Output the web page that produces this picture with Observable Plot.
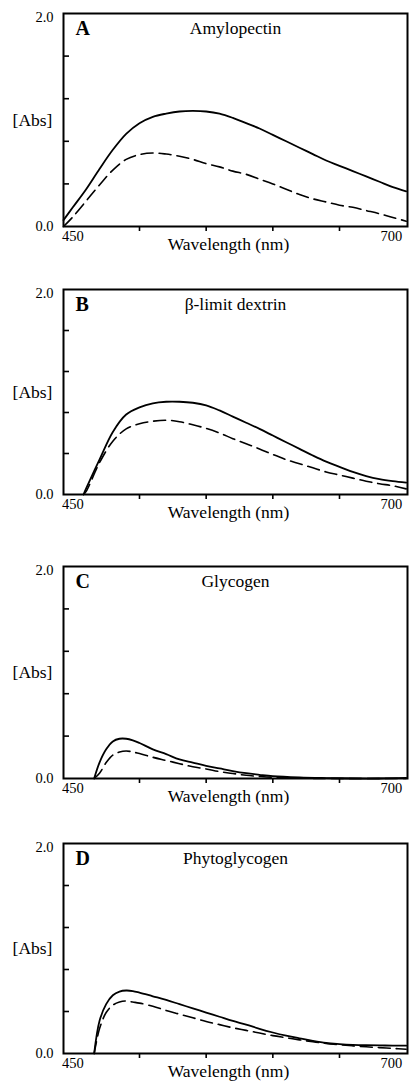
<!DOCTYPE html>
<html><head><meta charset="utf-8">
<script src="https://cdn.jsdelivr.net/npm/d3@7"></script>
<script src="https://cdn.jsdelivr.net/npm/@observablehq/plot@0.6"></script>
<style>
html,body{margin:0;padding:0;background:#fff;overflow:hidden}
#chart{position:relative;width:410px;height:1084px;overflow:hidden}
#chart svg{position:absolute;left:0;display:block;max-width:none}
</style>
</head><body><div id="chart"></div>
<script>
const panelLetters = ["A", "B", "C", "D"];
const panelTitles = ["Amylopectin", "β-limit dextrin", "Glycogen", "Phytoglycogen"];
const xLabel = "Wavelength (nm)";
const yLabel = "[Abs]";
const xMinorTicks = [500, 550, 600, 650];
const xEndTicks = [450, 700];
const yMinorTicks = [0.4, 0.8, 1.2, 1.6];
const yEndTicks = [0, 2];

// Panel A: Amylopectin
const wlA = [443, 450, 460, 470, 480, 490, 500, 510, 520, 530, 540, 550, 560, 570, 580, 590, 600, 610, 620, 630, 640, 650, 660, 670, 680, 690, 700];
const solidA = [0.06, 0.18, 0.35, 0.54, 0.72, 0.87, 0.97, 1.03, 1.06, 1.08, 1.085, 1.08, 1.06, 1.02, 0.97, 0.92, 0.86, 0.80, 0.74, 0.68, 0.62, 0.57, 0.52, 0.47, 0.42, 0.37, 0.33];
const dashedA = [0, 0.09, 0.24, 0.39, 0.53, 0.63, 0.675, 0.69, 0.68, 0.66, 0.63, 0.59, 0.56, 0.52, 0.49, 0.445, 0.40, 0.35, 0.30, 0.26, 0.23, 0.20, 0.18, 0.15, 0.12, 0.085, 0.05];

// Panel B: beta-limit dextrin
const wlB = [458, 460, 470, 480, 490, 500, 510, 520, 530, 540, 550, 560, 570, 580, 590, 600, 610, 620, 630, 640, 650, 660, 670, 680, 690, 700];
const solidB = [0, 0.06, 0.34, 0.61, 0.78, 0.85, 0.89, 0.905, 0.905, 0.895, 0.87, 0.82, 0.76, 0.70, 0.64, 0.575, 0.51, 0.445, 0.38, 0.32, 0.27, 0.22, 0.18, 0.15, 0.13, 0.115];
const dashedB = [0, 0.03, 0.31, 0.52, 0.64, 0.69, 0.715, 0.725, 0.71, 0.68, 0.645, 0.60, 0.545, 0.495, 0.445, 0.39, 0.34, 0.30, 0.26, 0.22, 0.19, 0.16, 0.13, 0.105, 0.085, 0.055];

// Panel C: Glycogen
const wlC = [466, 470, 475, 480, 485, 490, 495, 500, 510, 520, 530, 540, 550, 560, 570, 580, 590, 600, 620, 640, 660, 680, 700];
const solidC = [0, 0.15, 0.275, 0.35, 0.375, 0.375, 0.36, 0.335, 0.275, 0.23, 0.18, 0.15, 0.12, 0.095, 0.07, 0.05, 0.035, 0.022, 0.01, 0.004, 0, 0, 0.005];
const dashedC = [0, 0.05, 0.15, 0.22, 0.25, 0.26, 0.25, 0.235, 0.20, 0.17, 0.14, 0.11, 0.09, 0.065, 0.047, 0.03, 0.02, 0.012, 0.004, 0, 0, 0, 0];

// Panel D: Phytoglycogen
const wlD = [466, 470, 475, 480, 485, 490, 495, 500, 510, 520, 530, 540, 550, 560, 570, 580, 590, 600, 610, 620, 630, 640, 650, 660, 670, 680, 690, 700];
const solidD = [0, 0.31, 0.47, 0.555, 0.59, 0.60, 0.595, 0.58, 0.545, 0.51, 0.47, 0.43, 0.39, 0.35, 0.31, 0.275, 0.235, 0.20, 0.17, 0.145, 0.12, 0.10, 0.09, 0.083, 0.079, 0.077, 0.075, 0.075];
const dashedD = [0, 0.235, 0.39, 0.46, 0.49, 0.50, 0.49, 0.48, 0.45, 0.41, 0.375, 0.34, 0.305, 0.275, 0.245, 0.22, 0.195, 0.17, 0.15, 0.13, 0.112, 0.095, 0.083, 0.073, 0.064, 0.056, 0.048, 0.04];

const panels = [
  [wlA, solidA, dashedA],
  [wlB, solidB, dashedB],
  [wlC, solidC, dashedC],
  [wlD, solidD, dashedD]
];

// layout: frame top and frame height of each panel (pixels)
const frameTops = [13, 289, 566, 843];
const frameHeights = [213, 205, 212, 210];
const mTop = 13, mBottom = 40;

const serif = "'Liberation Serif', 'Times New Roman', serif";
const chart = document.getElementById("chart");

panels.forEach(([wl, solid, dashed], i) => {
  const rows = wl.map((w, j) => ({w, s: solid[j], d: dashed[j]}));
  const h = frameHeights[i] + mTop + mBottom;
  const svg = Plot.plot({
    width: 410,
    height: h,
    marginTop: mTop,
    marginBottom: mBottom,
    marginLeft: 63,
    marginRight: 3,
    style: {fontFamily: serif, fontSize: "14.5px", background: "transparent", color: "#000"},
    x: {domain: [443, 701], axis: null},
    y: {domain: [0, 2], axis: null},
    marks: [
      Plot.line(rows, {x: "w", y: "s", stroke: "#000", strokeWidth: 1.8, curve: "catmull-rom"}),
      Plot.line(rows, {x: "w", y: "d", stroke: "#000", strokeWidth: 1.6, strokeDasharray: "12,6", curve: "catmull-rom"}),
      Plot.frame({stroke: "#000", strokeWidth: 2}),
      Plot.axisY(yMinorTicks, {tickSize: 6, dx: 6, tickFormat: () => "", strokeWidth: 1.6, label: null}),
      Plot.axisY([yEndTicks[0]], {tickSize: 0, tickPadding: 10, tickFormat: d3.format(".1f"), fontSize: 14.5, label: null}),
      Plot.axisY([yEndTicks[1]], {tickSize: 0, tickPadding: 10, tickFormat: d3.format(".1f"), fontSize: 14.5, dy: 4, label: null}),
      Plot.axisX(xMinorTicks, {tickSize: 5, tickFormat: () => "", strokeWidth: 1.6, label: null}),
      Plot.axisX([xEndTicks[0]], {tickSize: 0, tickPadding: 4, fontSize: 14.5, label: null}),
      Plot.axisX([xEndTicks[1]], {tickSize: 0, tickPadding: 4, fontSize: 14.5, textAnchor: "end", dx: -4, label: null}),
      Plot.text([panelLetters[i]], {text: d => d, frameAnchor: "top-left", textAnchor: "start", lineAnchor: "top", dx: 12, dy: 7, fontSize: 20, fontWeight: "bold", fontFamily: serif}),
      Plot.text([panelTitles[i]], {text: d => d, frameAnchor: "top", textAnchor: "middle", lineAnchor: "top", dy: 8, fontSize: 17.5, fontFamily: serif}),
      Plot.text([yLabel], {text: d => d, frameAnchor: "left", textAnchor: "middle", lineAnchor: "middle", dx: -31, fontSize: 17.5, fontFamily: serif}),
      Plot.text([xLabel], {text: d => d, frameAnchor: "bottom", textAnchor: "middle", lineAnchor: "top", dx: -7, dy: 11, fontSize: 17.5, fontFamily: serif})
    ]
  });
  svg.style.top = (frameTops[i] - mTop) + "px";
  svg.style.width = "410px";
  svg.style.height = h + "px";
  chart.appendChild(svg);
});
</script>
</body></html>
